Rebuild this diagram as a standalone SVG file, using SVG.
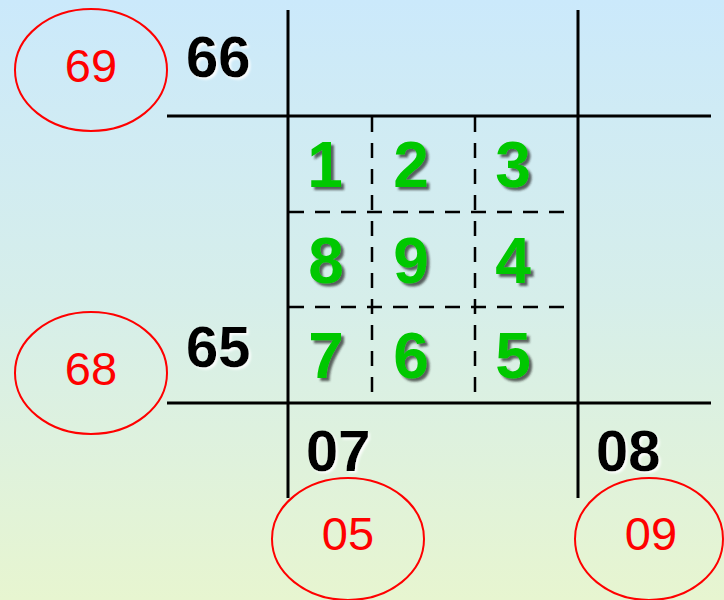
<svg xmlns="http://www.w3.org/2000/svg" width="724" height="600" viewBox="0 0 724 600">
<defs>
<linearGradient id="bg" x1="0" y1="0" x2="0" y2="1">
<stop offset="0" stop-color="#CBE9FB"/>
<stop offset="0.5" stop-color="#D6EEEA"/>
<stop offset="1" stop-color="#E7F5D0"/>
</linearGradient>
<filter id="gs" x="-20%" y="-20%" width="150%" height="150%">
<feDropShadow dx="3" dy="3" stdDeviation="1.2" flood-color="#222" flood-opacity="0.7"/>
</filter>
<filter id="ws" x="-20%" y="-20%" width="150%" height="150%">
<feDropShadow dx="2" dy="2" stdDeviation="1" flood-color="#FFFFFF" flood-opacity="0.9"/>
</filter>
</defs>
<style>
.solid{stroke:#000;stroke-width:3;fill:none}
.dash{stroke:#000;stroke-width:2.5;stroke-dasharray:15 11;fill:none}
.ell{fill:none;stroke:#FF0000;stroke-width:2}
.red{font-family:"Liberation Sans",Arial,sans-serif;font-size:47px;fill:#FF0000;text-anchor:middle}
.blk{font-family:"Liberation Sans",Arial,sans-serif;font-size:58px;font-weight:bold;fill:#000;filter:url(#ws)}
.grn{font-family:"Liberation Sans",Arial,sans-serif;font-size:64px;font-weight:bold;fill:#00C800;text-anchor:middle;filter:url(#gs)}
</style>
<rect x="0" y="0" width="724" height="600" fill="url(#bg)"/>
<g id="connectors">
<line class="solid" x1="288" y1="10" x2="288" y2="498"/>
<line class="solid" x1="578" y1="10" x2="578" y2="498"/>
<line class="solid" x1="167" y1="116" x2="711" y2="116"/>
<line class="solid" x1="167" y1="403" x2="711" y2="403"/>
<line class="dash" x1="372" y1="117" x2="372" y2="402"/>
<line class="dash" x1="475" y1="117" x2="475" y2="402"/>
<line class="dash" x1="289" y1="212" x2="573" y2="212"/>
<line class="dash" x1="289" y1="307" x2="573" y2="307"/>
</g>
<g id="n69"><ellipse class="ell" cx="91" cy="70" rx="76" ry="61"/><text class="red" x="91" y="82">69</text></g>
<g id="n68"><ellipse class="ell" cx="91" cy="373" rx="76" ry="61"/><text class="red" x="91" y="385">68</text></g>
<g id="n05"><ellipse class="ell" cx="348" cy="539" rx="76" ry="61"/><text class="red" x="348" y="550">05</text></g>
<g id="n09"><ellipse class="ell" cx="649" cy="539" rx="74" ry="61"/><text class="red" x="651" y="550">09</text></g>
<g id="n66"><text class="blk" x="186" y="77">66</text></g>
<g id="n65"><text class="blk" x="186" y="367">65</text></g>
<g id="n07"><text class="blk" x="306" y="471">07</text></g>
<g id="n08"><text class="blk" x="596" y="471">08</text></g>
<g id="c1"><text class="grn" x="325" y="187">1</text></g>
<g id="c2"><text class="grn" x="411" y="187">2</text></g>
<g id="c3"><text class="grn" x="513" y="187">3</text></g>
<g id="c8"><text class="grn" x="326" y="283">8</text></g>
<g id="c9"><text class="grn" x="411" y="283">9</text></g>
<g id="c4"><text class="grn" x="513" y="283">4</text></g>
<g id="c7"><text class="grn" x="326" y="378">7</text></g>
<g id="c6"><text class="grn" x="411" y="378">6</text></g>
<g id="c5"><text class="grn" x="513" y="378">5</text></g>
</svg>
